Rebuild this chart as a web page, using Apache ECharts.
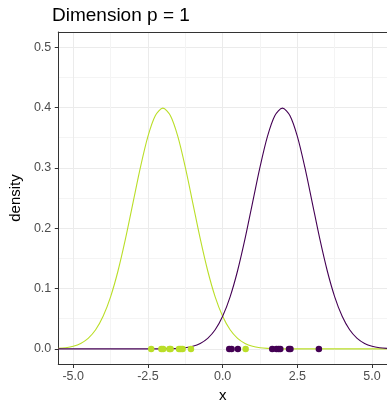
<!DOCTYPE html>
<html>
<head>
<meta charset="utf-8">
<script src="https://cdn.jsdelivr.net/npm/echarts@6/dist/echarts.min.js"></script>
<style>html,body{margin:0;padding:0;background:#fff}#c{width:387px;height:408px}</style>
</head>
<body>
<div id="c"></div>
<script>
const titleText = "Dimension p = 1";
const xTicks = [-5, -2.5, 0, 2.5, 5];
const xMinorTicks = [-3.75, -1.25, 1.25, 3.75];
const yTicks = [0, 0.1, 0.2, 0.3, 0.4, 0.5];
const yMinorTicks = [0.05, 0.15, 0.25, 0.35, 0.45];

const xGrid = [-5.5, -5.25, -5, -4.75, -4.5, -4.25, -4, -3.75, -3.5, -3.25, -3, -2.75, -2.5, -2.25, -2, -1.75, -1.5, -1.25, -1, -0.75, -0.5, -0.25, 0, 0.25, 0.5, 0.75, 1, 1.25, 1.5, 1.75, 2, 2.25, 2.5, 2.75, 3, 3.25, 3.5, 3.75, 4, 4.25, 4.5, 4.75, 5, 5.25, 5.5];
const yellowDensity = [0.0009, 0.0020, 0.0044, 0.0091, 0.0175, 0.0317, 0.0540, 0.0863, 0.1295, 0.1826, 0.2420, 0.3011, 0.3521, 0.3867, 0.3989, 0.3867, 0.3521, 0.3011, 0.2420, 0.1826, 0.1295, 0.0863, 0.0540, 0.0317, 0.0175, 0.0091, 0.0044, 0.0020, 0.0009, 0.0004, 0.0001, 0, 0, 0, 0, 0, 0, 0, 0, 0, 0, 0, 0, 0, 0];
const purpleDensity = [0, 0, 0, 0, 0, 0, 0, 0, 0, 0, 0, 0, 0, 0, 0.0001, 0.0004, 0.0009, 0.0020, 0.0044, 0.0091, 0.0175, 0.0317, 0.0540, 0.0863, 0.1295, 0.1826, 0.2420, 0.3011, 0.3521, 0.3867, 0.3989, 0.3867, 0.3521, 0.3011, 0.2420, 0.1826, 0.1295, 0.0863, 0.0540, 0.0317, 0.0175, 0.0091, 0.0044, 0.0020, 0.0009];
const yellowPoints = [-2.39, -2.05, -1.99, -1.78, -1.74, -1.46, -1.40, -1.34, -1.06, 0.77];
const purplePoints = [0.22, 0.30, 0.51, 1.66, 1.80, 1.87, 1.93, 2.22, 2.27, 3.22];

const YELLOW = '#BADE28';
const PURPLE = '#440154';
const FONT = 'Liberation Sans, Arial, sans-serif';

const chart = echarts.init(document.getElementById('c'), null, {renderer: 'canvas'});
const grid = {left: 52, top: 32, width: 336, height: 337};
const xMin = -5.5, xMax = 5.5, yMin = -0.025, yMax = 0.525;

function pairs(xs, ys) { return xs.map((x, i) => [x, ys[i]]); }

chart.setOption({
  animation: false,
  backgroundColor: '#fff',
  title: {
    text: titleText, left: 47, top: 1,
    textStyle: {fontFamily: FONT, fontSize: 19, fontWeight: 'normal', color: '#000'}
  },
  grid: grid,
  xAxis: [
    {
      type: 'value', min: xMin, max: xMax, position: 'bottom',
      name: 'x', nameLocation: 'middle', nameGap: 24,
      nameTextStyle: {fontFamily: FONT, fontSize: 15, color: '#000'},
      axisLine: {show: true, onZero: false, lineStyle: {color: '#333', width: 1}},
      axisTick: {show: true, length: 4, customValues: xTicks, lineStyle: {color: '#333'}},
      axisLabel: {customValues: xTicks, fontFamily: FONT, fontSize: 12.5, color: '#4D4D4D', margin: 6,
        formatter: v => v.toFixed(1)},
      splitLine: {show: true, lineStyle: {color: '#EBEBEB', width: 1}}
    },
    {
      type: 'value', min: xMin, max: xMax, position: 'bottom',
      axisLine: {show: false},
      axisTick: {show: true, length: 0, customValues: xMinorTicks},
      axisLabel: {show: false, customValues: xMinorTicks},
      splitLine: {show: true, lineStyle: {color: '#F4F4F4', width: 1}}
    },
    {
      type: 'value', min: xMin, max: xMax, position: 'top',
      axisLine: {show: true, onZero: false, lineStyle: {color: '#333', width: 1}},
      axisTick: {show: false}, axisLabel: {show: false}, splitLine: {show: false}
    }
  ],
  yAxis: [
    {
      type: 'value', min: yMin, max: yMax, position: 'left',
      name: 'density', nameLocation: 'middle', nameGap: 31, nameRotate: 90,
      nameTextStyle: {fontFamily: FONT, fontSize: 15, color: '#000'},
      axisLine: {show: true, onZero: false, lineStyle: {color: '#333', width: 1}},
      axisTick: {show: true, length: 3.5, customValues: yTicks, lineStyle: {color: '#333'}},
      axisLabel: {customValues: yTicks, fontFamily: FONT, fontSize: 12.5, color: '#4D4D4D', margin: 7,
        formatter: v => v.toFixed(1)},
      splitLine: {show: true, lineStyle: {color: '#EBEBEB', width: 1}}
    },
    {
      type: 'value', min: yMin, max: yMax, position: 'left',
      axisLine: {show: false},
      axisTick: {show: true, length: 0, customValues: yMinorTicks},
      axisLabel: {show: false, customValues: yMinorTicks},
      splitLine: {show: true, lineStyle: {color: '#F4F4F4', width: 1}}
    },
    {
      type: 'value', min: yMin, max: yMax, position: 'right',
      axisLine: {show: true, onZero: false, lineStyle: {color: '#333', width: 1}},
      axisTick: {show: false}, axisLabel: {show: false}, splitLine: {show: false}
    }
  ],
  series: [
    {
      type: 'line', name: 'yellow', data: pairs(xGrid, yellowDensity), smooth: 0.3,
      showSymbol: false, lineStyle: {color: YELLOW, width: 1.1}, itemStyle: {color: YELLOW}, z: 3
    },
    {
      type: 'line', name: 'purple', data: pairs(xGrid, purpleDensity), smooth: 0.3,
      showSymbol: false, lineStyle: {color: PURPLE, width: 1.1}, itemStyle: {color: PURPLE}, z: 3
    },
    {
      type: 'scatter', data: yellowPoints.map(x => [x, 0]), symbolSize: 6.5,
      itemStyle: {color: YELLOW, opacity: 1}, z: 5
    },
    {
      type: 'scatter', data: purplePoints.map(x => [x, 0]), symbolSize: 6.5,
      itemStyle: {color: PURPLE, opacity: 1}, z: 5
    }
  ]
});
</script>
</body>
</html>
